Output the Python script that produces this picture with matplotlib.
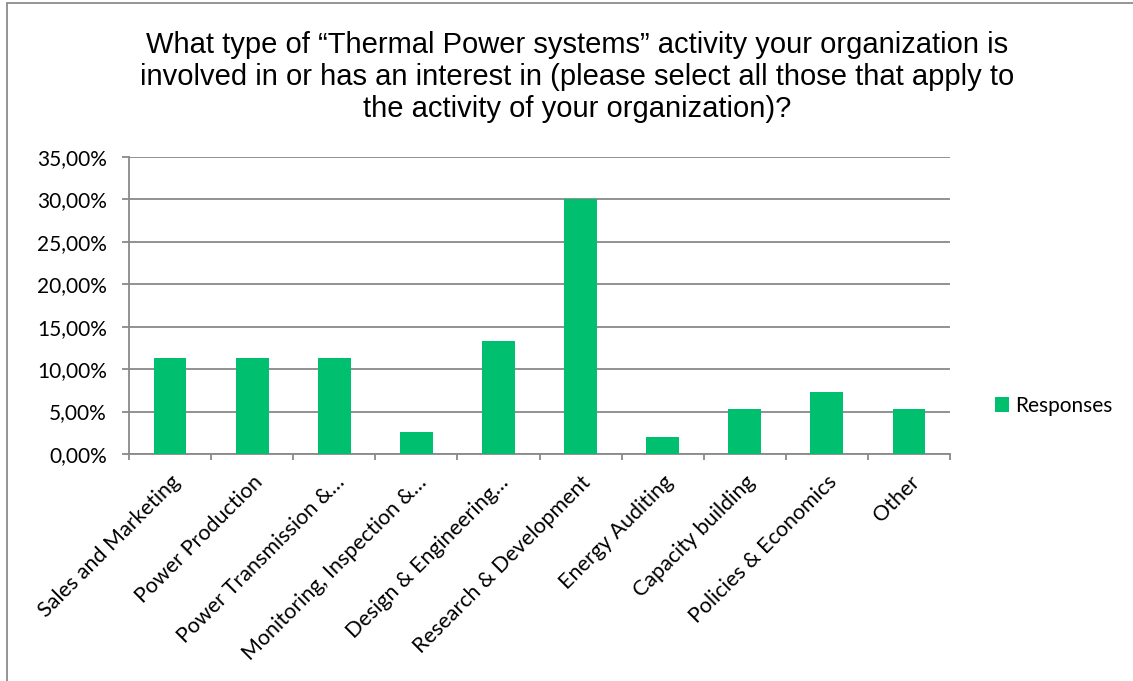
import matplotlib
matplotlib.use("Agg")
import matplotlib.pyplot as plt
from matplotlib.patches import Rectangle
from matplotlib.ticker import FuncFormatter, MultipleLocator

categories = ["Sales and Marketing", "Power Production", "Power Transmission &…",
              "Monitoring, Inspection &…", "Design & Engineering…",
              "Research & Development", "Energy Auditing", "Capacity building",
              "Policies & Economics", "Other"]
responses = [11.32, 11.32, 11.32, 2.64, 13.29, 30.0, 2.0, 5.36, 7.36, 5.36]

title = ("What type of \u201cThermal Power systems\u201d activity your organization is\n"
         "involved in or has an interest in (please select all those that apply to\n"
         "the activity of your organization)?")

green = "#00BF6F"
grey = "#898989"

fig = plt.figure(figsize=(11.33, 6.81), dpi=100)
ax = fig.add_axes([129 / 1133, 1 - 454 / 681, 821 / 1133, 297 / 681])

x = range(len(categories))
ax.bar(x, responses, width=0.4, color=green, label="Responses", zorder=3)

ax.set_xlim(-0.5, len(categories) - 0.5)
ax.set_ylim(0, 35)
ax.yaxis.set_major_locator(MultipleLocator(5))
ax.yaxis.set_major_formatter(FuncFormatter(lambda v, p: f"{v:.2f}%".replace(".", ",")))
ax.grid(axis="y", color=grey, linewidth=1.3, zorder=0)

# ticks between categories, labels at centres
ax.set_xticks([i - 0.5 for i in range(len(categories) + 1)])
ax.set_xticklabels([])
ax.set_xticks(list(x), minor=True)
ax.set_xticklabels(categories, minor=True, rotation=45, ha="right", va="top",
                   rotation_mode="anchor", fontsize=15.5, family="Lato")
ax.tick_params(axis="x", which="minor", length=0, pad=13)
ax.tick_params(axis="x", which="major", length=4, color=grey, width=1.3)
ax.tick_params(axis="y", length=5, color=grey, width=1.3, labelsize=15, pad=11)
for lab in ax.get_yticklabels():
    lab.set_family("Lato")

for s in ["top", "right"]:
    ax.spines[s].set_visible(False)
for s in ["left", "bottom"]:
    ax.spines[s].set_color(grey)
    ax.spines[s].set_linewidth(1.3)

fig.text(577 / 1133, 1 - 77 / 681, title, ha="center", va="center", fontsize=21,
         family="Liberation Sans", linespacing=1.2)

fig.legend(loc="center left", bbox_to_anchor=(976 / 1133, 1 - 406 / 681),
           frameon=False, prop={"family": "Lato", "size": 15},
           handlelength=0.7, handleheight=0.7, handletextpad=0.3)

fig.patches.append(Rectangle((7 / 1133, -0.1), 1.2, 1.1 - 3 / 681, transform=fig.transFigure,
                             fill=False, edgecolor="#8c8c8c", linewidth=1.3))

fig.savefig("out.png", dpi=100)
